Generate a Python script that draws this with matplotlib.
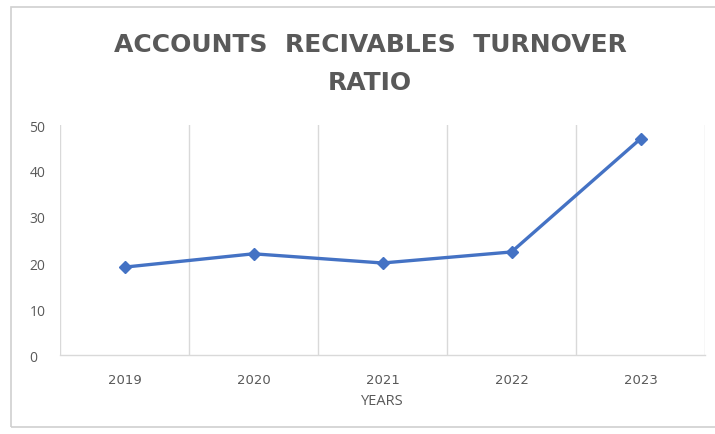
import numpy as np
import matplotlib.pyplot as plt
from matplotlib.patches import Rectangle

years = ['2019', '2020', '2021', '2022', '2023']
turnover_ratio = [19.1, 22.0, 20.0, 22.4, 47.0]
y_ticks = [0, 10, 20, 30, 40, 50]

text_grey = '#595959'
grid_grey = '#d9d9d9'
line_blue = '#4472c4'

plt.rcParams['font.family'] = ['Open Sans', 'DejaVu Sans']

fig = plt.figure(figsize=(7.15, 4.35), dpi=100)
fig.patch.set_facecolor('white')

# chart area border, like an Excel chart box
fig.patches.append(Rectangle((11 / 715, 1 - 428 / 435), 1.0, (428 - 8) / 435,
                             transform=fig.transFigure, fill=False,
                             edgecolor='#d0d0d0', linewidth=1.2))

ax = fig.add_axes([60 / 715, 1 - 356 / 435, 645 / 715, 230 / 435])
x = np.arange(len(years))

ax.plot(x, turnover_ratio, color=line_blue, linewidth=2.4, marker='D',
        markersize=6, zorder=3)

ax.set_xlim(-0.5, len(years) - 0.5)
ax.set_ylim(0, 50)
ax.set_yticks(y_ticks)
ax.set_xticks(x)
ax.set_xticklabels(years, family='DejaVu Sans', fontsize=9.5)

# vertical gridlines between categories
for b in np.arange(-0.5, len(years)):
    ax.axvline(b, color=grid_grey, linewidth=1, zorder=1)

for side in ['top', 'right', 'left']:
    ax.spines[side].set_visible(False)
ax.spines['bottom'].set_color(grid_grey)
ax.spines['bottom'].set_linewidth(1)

ax.tick_params(axis='both', length=0, colors=text_grey)
ax.tick_params(axis='y', labelsize=10, pad=22)
ax.tick_params(axis='x', pad=13)
for lbl in ax.get_yticklabels():
    lbl.set_horizontalalignment('left')

ax.set_xlabel('YEARS', color=text_grey, fontsize=10.5, labelpad=5)

fig.text(370 / 715, 1 - 45 / 435, 'ACCOUNTS  RECIVABLES  TURNOVER', ha='center',
         va='center', fontsize=18, fontweight='bold', color=text_grey,
         family='DejaVu Sans')
fig.text(370 / 715, 1 - 83 / 435, 'RATIO', ha='center', va='center',
         fontsize=18, fontweight='bold', color=text_grey, family='DejaVu Sans')

fig.savefig('out.png', dpi=100, facecolor='white')
